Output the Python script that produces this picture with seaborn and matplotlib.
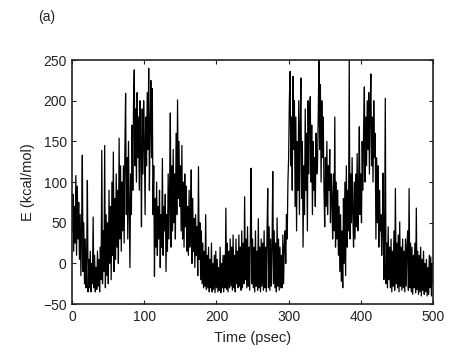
import numpy as np
import pandas as pd
import matplotlib
matplotlib.use("Agg")
import matplotlib.pyplot as plt
import seaborn as sns

energy = [
    40, 85, 15, 70, 25, 108, 10, 95, 30, 75,
    5, 60, -15, 45, 133, -10, 50, -25, 30, -30,
    10, 102, -35, 5, -30, 15, -35, 0, -25, 57,
    -30, 10, -35, -5, -32, 15, -28, 5, -35, 20,
    -20, 139, -25, 40, -10, 145, -30, 60, -15, 50,
    -25, 90, 0, 70, -20, 100, 10, 137, -10, 80,
    5, 110, 20, 90, 0, 154, 30, 120, 15, 100,
    40, 120, 25, 140, 209, 60, 130, 30, 150, 70,
    -5, 110, 60, 170, 90, 200, 238, 120, 190, 100,
    210, 130, 180, 90, 200, 140, 45, 190, 110, 200,
    150, 60, 180, 120, 210, 140, 240, 90, 170, 225,
    130, 215, 60, 120, -16, 80, 20, 100, 10, 70,
    30, 90, -5, 60, 20, 129, 10, 70, 40, 85,
    -10, 60, 15, 110, 30, 90, 185, 20, 120, 40,
    140, 50, 110, 30, 160, 60, 201, 80, 150, 70,
    120, 40, 145, 30, 100, 20, 110, 45, 95, 15,
    70, 10, 90, 20, 60, 115, 0, 80, 15, 55,
    -5, 60, 10, 45, -15, 119, 5, 50, -20, 40,
    -25, 25, -30, 15, -28, 60, -32, 10, -30, 20,
    -35, 5, -30, 25, -35, 0, -32, 10, -36, 15,
    -30, 5, -35, -5, -33, 20, -36, 0, -30, 10,
    -35, 10, -30, 68, -32, 25, -35, 15, -30, 30,
    -28, 20, -33, 35, -30, 10, -35, 30, -25, 15,
    -30, 35, -28, 20, -33, 40, -30, 25, -25, 82,
    -20, 30, -30, 45, -28, 20, -33, 35, 117, -25,
    30, -30, 20, -35, 40, -28, 15, -33, 55, -30,
    20, -35, 30, -28, 25, -33, 40, -30, 20, -35,
    35, 92, -30, 45, -33, 30, -28, 20, 113, -25,
    40, -30, 25, -35, 56, -28, 30, -33, 20, -30,
    10, -30, 35, -25, 20, 40, 0, 60, 30, 100,
    130, 200, 236, 120, 180, 90, 230, 140, 200, 70,
    180, 40, 150, 90, 200, 60, 170, 228, 80, 150,
    20, 120, 60, 190, 90, 160, 40, 200, 110, 180,
    205, 100, 170, 60, 150, 90, 130, 70, 160, 110,
    120, 180, 250, 140, 220, 100, 200, 130, 180, 90,
    45, 130, 70, 150, 60, 120, 90, 140, 50, 110,
    80, 30, 110, 40, 180, 20, 100, 30, 90, 10,
    70, -10, 60, -22, 40, -30, 80, 0, 100, -15,
    120, 20, 90, 40, 250, 30, 110, 50, 130, 60,
    20, 100, 30, 110, 45, 135, 40, 95, 168, 60,
    110, 50, 150, 90, 170, 217, 100, 180, 120, 200,
    140, 210, 110, 190, 233, 120, 180, 100, 200, 130,
    160, 30, 130, 50, 120, 20, 90, 40, 60, 10,
    40, 111, -20, 30, 203, -25, 25, -30, 45, -20,
    20, -30, 30, -35, 15, -28, 40, -33, 92, -25,
    25, -30, 35, -35, 51, -28, 20, -33, 30, -30,
    15, -35, 30, -28, 20, 40, -33, 92, -30, 25,
    -35, 20, -38, 10, -30, 25, -36, 68, -32, 15,
    -38, 10, -35, 20, -40, 5, -33, 15, -38, 0,
    -35, 5, -40, -5, -38, 10, -30, 8, -40, 0,
    -25,
]
time_psec = list(range(0, len(energy)))

x_ticks = [0, 100, 200, 300, 400, 500]
y_ticks = [-50, 0, 50, 100, 150, 200, 250]
x_label = "Time (psec)"
y_label = "E (kcal/mol)"
panel_label = "(a)"

df = pd.DataFrame({"t": time_psec, "E": energy})

sns.set_style("ticks")
plt.rcParams["font.family"] = ["Liberation Sans", "DejaVu Sans"]

fig = plt.figure(figsize=(4.63, 3.62), dpi=100)
ax = fig.add_axes([0.156, 0.160, 0.779, 0.674])

sns.lineplot(data=df, x="t", y="E", ax=ax, color="black", linewidth=0.9,
             estimator=None, sort=False)

ax.set_xlim(0, 500)
ax.set_ylim(-50, 250)
ax.set_xticks(x_ticks)
ax.set_yticks(y_ticks)
ax.set_xlabel(x_label, fontsize=10.5, color="#222222", labelpad=5)
ax.set_ylabel(y_label, fontsize=10.5, color="#222222", labelpad=6)
ax.tick_params(direction="in", length=3, width=0.8, top=True, right=True,
               labelsize=10, colors="#222222", pad=4)
for s in ax.spines.values():
    s.set_visible(True)
    s.set_linewidth(1.2)
    s.set_color("#222222")

fig.text(38 / 463, 1 - 17 / 362, panel_label, fontsize=10, color="#222222",
         ha="left", va="center")

fig.savefig("out.png", dpi=100)
